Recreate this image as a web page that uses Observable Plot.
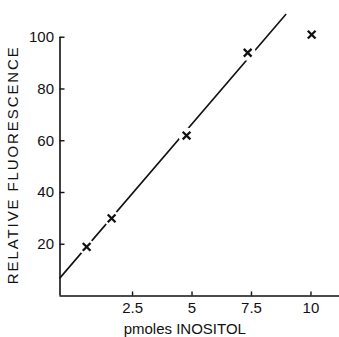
<!DOCTYPE html>
<html><head><meta charset="utf-8">
<script src="https://cdn.jsdelivr.net/npm/d3@7"></script>
<script src="https://cdn.jsdelivr.net/npm/@observablehq/plot@0.6"></script>
<style>
html,body{margin:0;padding:0;background:#fff;}
svg{display:block;}
</style>
</head><body>
<div id="chart"></div>
<script>
// data
const inositol = [0.57, 1.62, 4.77, 7.34, 10.03];
const fluorescence = [19, 30, 62, 94, 101];
const fitX = [-0.55, 8.94];
const fitY = [7, 108.8];
const xTicks = [2.5, 5, 7.5, 10];
const xTickLabels = ["2.5", "5", "7.5", "10"];
const yTicks = [20, 40, 60, 80, 100];
const xDomain = [-0.55, 11.2];
const yDomain = [0, 114.2];
const xTitle = "pmoles INOSITOL";
const yTitle = "RELATIVE FLUORESCENCE";

const points = inositol.map((x, i) => ({x, y: fluorescence[i]}));
const fit = fitX.map((x, i) => ({x, y: fitY[i]}));
const font = "Liberation Sans, Arial, sans-serif";

const chart = Plot.plot({
  width: 339,
  height: 337,
  marginLeft: 59.5,
  marginRight: 0,
  marginTop: 0,
  marginBottom: 41.5,
  style: {fontFamily: font, fontSize: "15px", background: "#fff", color: "#111"},
  x: {domain: xDomain},
  y: {domain: yDomain},
  marks: [
    Plot.line(fit, {x: "x", y: "y", stroke: "#111", strokeWidth: 1.6}),
    Plot.dot(points, {x: "x", y: "y", r: 8, fill: "#fff", stroke: "none"}),
    Plot.dot(points, {x: "x", y: "y", symbol: "times", r: 3.6, stroke: "#111", strokeWidth: 2.3}),
    Plot.ruleX([xDomain[0]], {y1: 0, y2: 100, stroke: "#111", strokeWidth: 1.6}),
    Plot.ruleY([0], {x1: xDomain[0], x2: xDomain[1], stroke: "#111", strokeWidth: 1.6}),
    Plot.axisY({ticks: yTicks, tickSize: 5, dx: 5, tickFormat: () => "", label: null, strokeWidth: 1.4}),
    Plot.axisY({ticks: yTicks, tickSize: 0, tickPadding: 6, label: null, fontSize: 15}),
    Plot.axisX({ticks: xTicks, tickSize: 4, dy: -4, tickFormat: () => "", label: null, strokeWidth: 1.4}),
    Plot.axisX({ticks: xTicks, tickSize: 0, tickPadding: 6, label: null, fontSize: 15,
      tickFormat: (d) => xTickLabels[xTicks.indexOf(d)]}),
    Plot.text([xTitle], {frameAnchor: "bottom", dx: -15, dy: 38, fontSize: 15, textAnchor: "middle", lineAnchor: "bottom"}),
    Plot.text([yTitle], {frameAnchor: "left", dx: -46.5, dy: 16.5, rotate: -90, fontSize: 15,
      textAnchor: "middle", lineAnchor: "middle"})
  ]
});
d3.select(chart).selectAll("text").filter(function() { return this.textContent === yTitle; })
  .attr("letter-spacing", "1.9px");
document.getElementById("chart").appendChild(chart);
</script>
</body></html>
